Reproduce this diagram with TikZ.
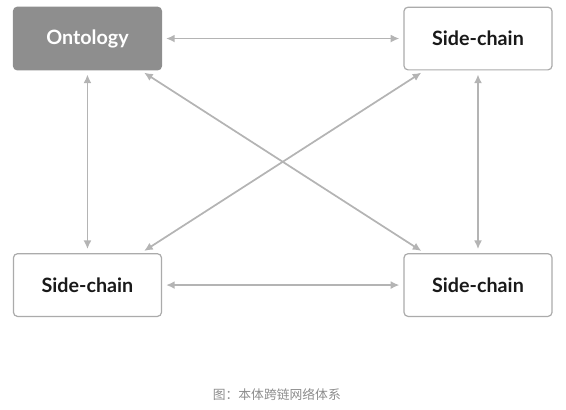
\documentclass[tikz,border=0pt]{standalone}
\usepackage{fontspec}
\usepackage{tikz}
\usetikzlibrary{positioning,arrows.meta}
\newfontfamily\boxfont{Lato}
\newfontfamily\cjk{Noto Sans CJK SC}
\definecolor{linkgray}{HTML}{B4B4B4}
\definecolor{edgegray}{HTML}{ABABAB}
\definecolor{ontogray}{HTML}{8E8E8E}
\tikzstyle{chain} = [rectangle, rounded corners=3pt, text centered, draw=edgegray, line width=0.9pt, fill=white, minimum width=111pt, minimum height=47pt, font=\boxfont\bfseries\fontsize{14.8}{16}\selectfont, text=black!90]
\tikzstyle{onto} = [chain, draw=ontogray, fill=ontogray, text=white]
\tikzstyle{caption} = [font=\cjk\fontsize{9.6}{11}\selectfont, text=black!45]
\tikzstyle{link} = [line width=1.3pt, draw=linkgray, {Latex[length=6.5pt,width=6pt]}-{Latex[length=6.5pt,width=6pt]}, shorten >=3pt, shorten <=3pt]

\begin{document}
\begin{tikzpicture}[node distance=1cm]

\useasboundingbox (-65.6pt,28.9pt) rectangle (358.9pt,-277.9pt);

\node (onto) [onto] at (0,0) {Ontology};
\node (sideTR) [chain, right=181pt of onto] {Side-chain};
\node (sideBL) [chain, below=137pt of onto] {Side-chain};
\node (sideBR) [chain, right=181pt of sideBL] {Side-chain};

\node (caption) [caption, below=50pt of sideBL, xshift=142pt] {图：本体跨链网络体系};

\draw [link] (onto) -- (sideTR);
\draw [link] (onto) -- (sideBL);
\draw [link] (sideTR) -- (sideBR);
\draw [link] (sideBL) -- (sideBR);
\draw [link] ([xshift=-16pt]onto.south east) -- ([xshift=16pt]sideBR.north west);
\draw [link] ([xshift=16pt]sideTR.south west) -- ([xshift=-16pt]sideBL.north east);

\end{tikzpicture}
\end{document}
